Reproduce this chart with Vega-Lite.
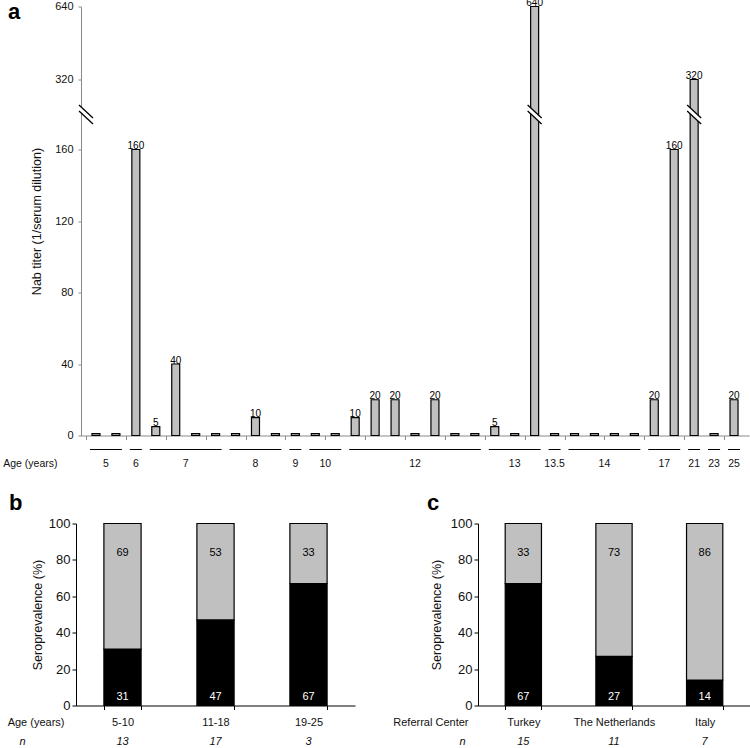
{
  "$schema": "https://vega.github.io/schema/vega-lite/v6.json",
  "padding": {"left": 2, "top": -2.5, "right": 0, "bottom": 0},
  "config": {
    "font": "Liberation Sans",
    "view": {"stroke": null},
    "axis": {"labelFont": "Liberation Sans", "titleFont": "Liberation Sans", "titleFontWeight": "normal", "labelColor": "#111", "titleColor": "#111", "grid": false, "labelOverlap": false},
    "title": {"font": "Liberation Sans", "fontWeight": "bold", "fontSize": 22, "anchor": "start", "frame": "group", "color": "#000", "baseline": "alphabetic"}
  },
  "datasets": {
    "titers": [
      {"id": 1, "age": "5", "titer": 1}, {"id": 2, "age": "5", "titer": 1},
      {"id": 3, "age": "6", "titer": 160},
      {"id": 4, "age": "7", "titer": 5}, {"id": 5, "age": "7", "titer": 40}, {"id": 6, "age": "7", "titer": 1}, {"id": 7, "age": "7", "titer": 1},
      {"id": 8, "age": "8", "titer": 1}, {"id": 9, "age": "8", "titer": 10}, {"id": 10, "age": "8", "titer": 1},
      {"id": 11, "age": "9", "titer": 1},
      {"id": 12, "age": "10", "titer": 1}, {"id": 13, "age": "10", "titer": 1},
      {"id": 14, "age": "12", "titer": 10}, {"id": 15, "age": "12", "titer": 20}, {"id": 16, "age": "12", "titer": 20}, {"id": 17, "age": "12", "titer": 1}, {"id": 18, "age": "12", "titer": 20}, {"id": 19, "age": "12", "titer": 1}, {"id": 20, "age": "12", "titer": 1},
      {"id": 21, "age": "13", "titer": 5}, {"id": 22, "age": "13", "titer": 1}, {"id": 23, "age": "13", "titer": 640},
      {"id": 24, "age": "13.5", "titer": 1},
      {"id": 25, "age": "14", "titer": 1}, {"id": 26, "age": "14", "titer": 1}, {"id": 27, "age": "14", "titer": 1}, {"id": 28, "age": "14", "titer": 1},
      {"id": 29, "age": "17", "titer": 20}, {"id": 30, "age": "17", "titer": 160},
      {"id": 31, "age": "21", "titer": 320},
      {"id": 32, "age": "23", "titer": 1},
      {"id": 33, "age": "25", "titer": 20}
    ],
    "ageGroups": [
      {"group": "5-10", "status": "positive", "pct": 31, "n": 13},
      {"group": "5-10", "status": "negative", "pct": 69, "n": 13},
      {"group": "11-18", "status": "positive", "pct": 47, "n": 17},
      {"group": "11-18", "status": "negative", "pct": 53, "n": 17},
      {"group": "19-25", "status": "positive", "pct": 67, "n": 3},
      {"group": "19-25", "status": "negative", "pct": 33, "n": 3}
    ],
    "centres": [
      {"group": "Turkey", "status": "positive", "pct": 67, "n": 15},
      {"group": "Turkey", "status": "negative", "pct": 33, "n": 15},
      {"group": "The Netherlands", "status": "positive", "pct": 27, "n": 11},
      {"group": "The Netherlands", "status": "negative", "pct": 73, "n": 11},
      {"group": "Italy", "status": "positive", "pct": 14, "n": 7},
      {"group": "Italy", "status": "negative", "pct": 86, "n": 7}
    ]
  },
  "spacing": 22,
  "vconcat": [
    {
      "title": {"text": "a", "dx": -68, "dy": 30},
      "width": 673,
      "height": 429,
      "data": {"name": "titers"},
      "layer": [
        {
          "mark": {"type": "bar", "width": 8, "fill": "#c0c0c0", "stroke": "#000", "strokeWidth": 1.2},
          "encoding": {
            "x": {"field": "id", "type": "quantitative", "scale": {"domain": [0.5, 33.5], "range": [5, 673], "nice": false, "zero": false},
              "axis": {"values": [0.5, 1.5, 2.5, 3.5, 4.5, 5.5, 6.5, 7.5, 8.5, 9.5, 10.5, 11.5, 12.5, 13.5, 14.5, 15.5, 16.5, 17.5, 18.5, 19.5, 20.5, 21.5, 22.5, 23.5, 24.5, 25.5, 26.5, 27.5, 28.5, 29.5, 30.5, 31.5, 32.5, 33.5],
                "labels": false, "tickSize": 4, "domainColor": "#8a8a8a", "tickColor": "#8a8a8a",
                "title": "Age (years)", "titleFontSize": 10.5, "titleX": -19, "titleY": 28, "titleAlign": "right", "titleBaseline": "middle"}},
            "y": {"field": "titer", "type": "quantitative",
              "scale": {"domain": [0, 160, 320, 640], "range": [429, 143, 73, 0], "nice": false, "zero": false},
              "axis": {"values": [0, 40, 80, 120, 160, 320, 640], "offset": -5, "title": "Nab titer (1/serum dilution)", "titleFontSize": 12.5, "titlePadding": 11,
                "labelFontSize": 11, "labelPadding": 5, "tickSize": 3, "domainColor": "#8a8a8a", "tickColor": "#8a8a8a"}}
          }
        },
        {
          "transform": [{"filter": "datum.titer >= 5"}],
          "mark": {"type": "text", "baseline": "alphabetic", "dy": -0.5, "fontSize": 10, "color": "#000"},
          "encoding": {
            "x": {"field": "id", "type": "quantitative"},
            "y": {"field": "titer", "type": "quantitative"},
            "text": {"field": "titer", "type": "quantitative"}
          }
        },
        {
          "transform": [{"aggregate": [{"op": "min", "field": "id", "as": "first"}, {"op": "max", "field": "id", "as": "last"}], "groupby": ["age"]}],
          "mark": {"type": "rule", "stroke": "#000", "strokeWidth": 1, "xOffset": -6, "x2Offset": 6, "yOffset": 14},
          "encoding": {
            "x": {"field": "first", "type": "quantitative"},
            "x2": {"field": "last"},
            "y": {"datum": 0, "type": "quantitative"}
          }
        },
        {
          "transform": [{"aggregate": [{"op": "mean", "field": "id", "as": "mid"}], "groupby": ["age"]}],
          "mark": {"type": "text", "baseline": "middle", "dy": 28, "fontSize": 10.5, "color": "#111"},
          "encoding": {
            "x": {"field": "mid", "type": "quantitative"},
            "y": {"datum": 0, "type": "quantitative"},
            "text": {"field": "age", "type": "nominal"}
          }
        },
        {
          "data": {"values": [{"where": "axis"}]},
          "mark": {"type": "rule", "stroke": "#fff", "strokeWidth": 4.5, "xOffset": -7, "x2Offset": 7, "yOffset": -6.5, "y2Offset": 6.5},
          "encoding": {"x": {"datum": 0.5, "type": "quantitative"}, "x2": {"datum": 0.5}, "y": {"datum": 240, "type": "quantitative"}, "y2": {"datum": 240}}
        },
        {
          "data": {"values": [{"where": "axis"}]},
          "mark": {"type": "rule", "stroke": "#000", "strokeWidth": 1.3, "xOffset": -7, "x2Offset": 7, "yOffset": -9.5, "y2Offset": 3.5},
          "encoding": {"x": {"datum": 0.5, "type": "quantitative"}, "x2": {"datum": 0.5}, "y": {"datum": 240, "type": "quantitative"}, "y2": {"datum": 240}}
        },
        {
          "data": {"values": [{"where": "axis"}]},
          "mark": {"type": "rule", "stroke": "#000", "strokeWidth": 1.3, "xOffset": -7, "x2Offset": 7, "yOffset": -3.5, "y2Offset": 9.5},
          "encoding": {"x": {"datum": 0.5, "type": "quantitative"}, "x2": {"datum": 0.5}, "y": {"datum": 240, "type": "quantitative"}, "y2": {"datum": 240}}
        },
        {
          "transform": [{"filter": "datum.titer > 200"}],
          "mark": {"type": "rule", "stroke": "#fff", "strokeWidth": 4.5, "xOffset": -7, "x2Offset": 7, "yOffset": -6.5, "y2Offset": 6.5},
          "encoding": {"x": {"field": "id", "type": "quantitative"}, "x2": {"field": "id"}, "y": {"datum": 240, "type": "quantitative"}, "y2": {"datum": 240}}
        },
        {
          "transform": [{"filter": "datum.titer > 200"}],
          "mark": {"type": "rule", "stroke": "#000", "strokeWidth": 1.3, "xOffset": -7, "x2Offset": 7, "yOffset": -9.5, "y2Offset": 3.5},
          "encoding": {"x": {"field": "id", "type": "quantitative"}, "x2": {"field": "id"}, "y": {"datum": 240, "type": "quantitative"}, "y2": {"datum": 240}}
        },
        {
          "transform": [{"filter": "datum.titer > 200"}],
          "mark": {"type": "rule", "stroke": "#000", "strokeWidth": 1.3, "xOffset": -7, "x2Offset": 7, "yOffset": -3.5, "y2Offset": 9.5},
          "encoding": {"x": {"field": "id", "type": "quantitative"}, "x2": {"field": "id"}, "y": {"datum": 240, "type": "quantitative"}, "y2": {"datum": 240}}
        }
      ]
    },
    {
      "spacing": 37,
      "hconcat": [
        {
          "title": {"text": "b", "dx": -67, "offset": 3},
          "width": 279,
          "height": 182,
          "data": {"name": "ageGroups"},
          "resolve": {"axis": {"x": "independent"}},
          "layer": [
            {
              "mark": {"type": "bar", "stroke": "#000", "strokeWidth": 1.2},
              "encoding": {
                "x": {"field": "group", "type": "nominal", "sort": null, "scale": {"paddingInner": 0.6, "paddingOuter": 0.3},
                  "axis": {"labelAngle": 0, "labelFontSize": 11, "labelPadding": 7, "tickSize": 4, "tickBand": "extent", "domainColor": "#000", "tickColor": "#000",
                    "title": "Age (years)", "titleFontSize": 11, "titleX": -12, "titleY": 17, "titleAlign": "right", "titleBaseline": "middle"}},
                "y": {"field": "pct", "type": "quantitative", "scale": {"domain": [0, 100], "nice": false},
                  "axis": {"values": [0, 20, 40, 60, 80, 100], "title": "Seroprevalence (%)", "titleFontSize": 12.5, "titlePadding": 4,
                    "labelFontSize": 13, "labelPadding": 2, "tickSize": 4, "domainColor": "#000", "tickColor": "#000"}},
                "color": {"field": "status", "type": "nominal", "scale": {"domain": ["positive", "negative"], "range": ["#000000", "#c0c0c0"]}, "legend": null},
                "order": {"field": "status", "sort": "descending"}
              }
            },
            {
              "transform": [{"filter": "datum.status == 'negative'"}],
              "mark": {"type": "text", "baseline": "middle", "dy": 29, "fontSize": 11, "color": "#000"},
              "encoding": {
                "x": {"field": "group", "type": "nominal", "sort": null, "axis": null},
                "y": {"datum": 100, "type": "quantitative",
                  "axis": {"values": [0, 20, 40, 60, 80, 100], "title": "Seroprevalence (%)", "titleFontSize": 12.5, "titlePadding": 4,
                    "labelFontSize": 13, "labelPadding": 2, "tickSize": 4, "domainColor": "#000", "tickColor": "#000"}},
                "text": {"field": "pct", "type": "quantitative"}
              }
            },
            {
              "transform": [{"filter": "datum.status == 'positive'"}],
              "mark": {"type": "text", "baseline": "middle", "dy": -9, "fontSize": 11, "color": "#fff"},
              "encoding": {
                "x": {"field": "group", "type": "nominal", "sort": null, "axis": null},
                "y": {"datum": 0, "type": "quantitative",
                  "axis": {"values": [0, 20, 40, 60, 80, 100], "title": "Seroprevalence (%)", "titleFontSize": 12.5, "titlePadding": 4,
                    "labelFontSize": 13, "labelPadding": 2, "tickSize": 4, "domainColor": "#000", "tickColor": "#000"}},
                "text": {"field": "pct", "type": "quantitative"}
              }
            },
            {
              "transform": [{"filter": "datum.status == 'positive'"}],
              "mark": {"type": "text", "baseline": "middle", "dy": 36, "fontSize": 11, "fontStyle": "italic", "color": "#111"},
              "encoding": {
                "x": {"field": "group", "type": "nominal", "sort": null,
                  "axis": {"orient": "bottom", "domain": false, "ticks": false, "labels": false, "title": "n", "titleFontSize": 11, "titleFontStyle": "italic", "titleX": -54, "titleY": 36, "titleAlign": "center", "titleBaseline": "middle"}},
                "y": {"datum": 0, "type": "quantitative",
                  "axis": {"values": [0, 20, 40, 60, 80, 100], "title": "Seroprevalence (%)", "titleFontSize": 12.5, "titlePadding": 4,
                    "labelFontSize": 13, "labelPadding": 2, "tickSize": 4, "domainColor": "#000", "tickColor": "#000"}},
                "text": {"field": "n", "type": "quantitative"}
              }
            }
          ]
        },
        {
          "title": {"text": "c", "dx": -51, "offset": 3},
          "width": 272,
          "height": 182,
          "data": {"name": "centres"},
          "resolve": {"axis": {"x": "independent"}},
          "layer": [
            {
              "mark": {"type": "bar", "stroke": "#000", "strokeWidth": 1.2},
              "encoding": {
                "x": {"field": "group", "type": "nominal", "sort": null, "scale": {"paddingInner": 0.6, "paddingOuter": 0.3},
                  "axis": {"labelAngle": 0, "labelFontSize": 11, "labelPadding": 7, "tickSize": 4, "tickBand": "extent", "domainColor": "#000", "tickColor": "#000",
                    "title": "Referral Center", "titleFontSize": 11, "titleX": -10, "titleY": 17, "titleAlign": "right", "titleBaseline": "middle"}},
                "y": {"field": "pct", "type": "quantitative", "scale": {"domain": [0, 100], "nice": false},
                  "axis": {"values": [0, 20, 40, 60, 80, 100], "title": "Seroprevalence (%)", "titleFontSize": 12.5, "titlePadding": 7,
                    "labelFontSize": 13, "labelPadding": 2, "tickSize": 4, "domainColor": "#000", "tickColor": "#000"}},
                "color": {"field": "status", "type": "nominal", "scale": {"domain": ["positive", "negative"], "range": ["#000000", "#c0c0c0"]}, "legend": null},
                "order": {"field": "status", "sort": "descending"}
              }
            },
            {
              "transform": [{"filter": "datum.status == 'negative'"}],
              "mark": {"type": "text", "baseline": "middle", "dy": 29, "fontSize": 11, "color": "#000"},
              "encoding": {
                "x": {"field": "group", "type": "nominal", "sort": null, "axis": null},
                "y": {"datum": 100, "type": "quantitative",
                  "axis": {"values": [0, 20, 40, 60, 80, 100], "title": "Seroprevalence (%)", "titleFontSize": 12.5, "titlePadding": 7,
                    "labelFontSize": 13, "labelPadding": 2, "tickSize": 4, "domainColor": "#000", "tickColor": "#000"}},
                "text": {"field": "pct", "type": "quantitative"}
              }
            },
            {
              "transform": [{"filter": "datum.status == 'positive'"}],
              "mark": {"type": "text", "baseline": "middle", "dy": -9, "fontSize": 11, "color": "#fff"},
              "encoding": {
                "x": {"field": "group", "type": "nominal", "sort": null, "axis": null},
                "y": {"datum": 0, "type": "quantitative",
                  "axis": {"values": [0, 20, 40, 60, 80, 100], "title": "Seroprevalence (%)", "titleFontSize": 12.5, "titlePadding": 7,
                    "labelFontSize": 13, "labelPadding": 2, "tickSize": 4, "domainColor": "#000", "tickColor": "#000"}},
                "text": {"field": "pct", "type": "quantitative"}
              }
            },
            {
              "transform": [{"filter": "datum.status == 'positive'"}],
              "mark": {"type": "text", "baseline": "middle", "dy": 36, "fontSize": 11, "fontStyle": "italic", "color": "#111"},
              "encoding": {
                "x": {"field": "group", "type": "nominal", "sort": null,
                  "axis": {"orient": "bottom", "domain": false, "ticks": false, "labels": false, "title": "n", "titleFontSize": 11, "titleFontStyle": "italic", "titleX": -16, "titleY": 36, "titleAlign": "center", "titleBaseline": "middle"}},
                "y": {"datum": 0, "type": "quantitative",
                  "axis": {"values": [0, 20, 40, 60, 80, 100], "title": "Seroprevalence (%)", "titleFontSize": 12.5, "titlePadding": 7,
                    "labelFontSize": 13, "labelPadding": 2, "tickSize": 4, "domainColor": "#000", "tickColor": "#000"}},
                "text": {"field": "n", "type": "quantitative"}
              }
            }
          ]
        }
      ]
    }
  ]
}
